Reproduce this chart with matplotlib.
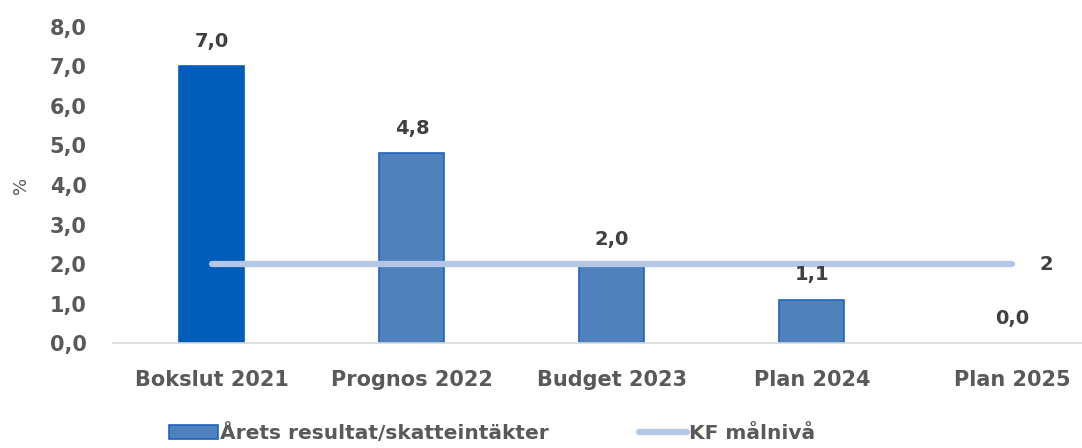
import numpy as np
import matplotlib.pyplot as plt
from matplotlib.patches import Patch
from matplotlib.lines import Line2D

categories = ["Bokslut 2021", "Prognos 2022", "Budget 2023", "Plan 2024", "Plan 2025"]
resultat = [7.0, 4.8, 2.0, 1.1, 0.0]
malniva = [2, 2, 2, 2, 2]
yticks = [0, 1, 2, 3, 4, 5, 6, 7, 8]

plt.rcParams['font.family'] = ['DejaVu Sans']
grey = "#595959"
dark = "#404040"

fig = plt.figure(figsize=(10.82, 4.48), dpi=100)
ax = fig.add_axes([0.1044, 0.234, 0.8956, 0.706])

x = np.arange(len(categories))
colors = ["#005EB8"] + ["#4F81BD"] * (len(categories) - 1)
edges = ["#005EB8"] + ["#1F64C0"] * (len(categories) - 1)
edges = [e if v > 0 else "none" for e, v in zip(edges, resultat)]
ax.bar(x, resultat, width=0.325, color=colors, edgecolor=edges, linewidth=1.2, zorder=2)
ax.plot(x, malniva, color="#B4C7E7", linewidth=4.5, solid_capstyle="round", zorder=3)

for xi, v in zip(x, resultat):
    ax.annotate(f"{v:.1f}".replace(".", ","), (xi, v), xytext=(0, 11), textcoords="offset points",
                ha="center", va="bottom", fontsize=14, fontweight="bold", color=dark)
ax.annotate(str(malniva[-1]), (x[-1], malniva[-1]), xytext=(20, 0), textcoords="offset points",
            ha="left", va="center", fontsize=14, fontweight="bold", color=dark)

ax.set_xlim(-0.495, 4.35)
ax.set_ylim(0, 8)
ax.set_yticks(yticks)
ax.set_yticklabels([f"{t:.1f}".replace(".", ",") for t in yticks])
ax.set_xticks(x)
ax.set_xticklabels(categories)
ax.tick_params(axis="y", length=0, pad=19, labelsize=15, labelcolor=grey)
ax.tick_params(axis="x", length=0, pad=19, labelsize=15, labelcolor=grey)
for lab in ax.get_xticklabels() + ax.get_yticklabels():
    lab.set_fontweight("bold")
for s in ["top", "right", "left"]:
    ax.spines[s].set_visible(False)
ax.spines["bottom"].set_color("#D9D9D9")
ax.spines["bottom"].set_linewidth(1.2)
ax.set_ylabel("%", fontsize=13, color=grey, labelpad=14)

handles = [Patch(facecolor="#4F81BD", edgecolor="#1F64C0", linewidth=1.2),
           Line2D([], [], color="#B4C7E7", linewidth=4.5, solid_capstyle="round")]
fig.legend(handles, ["Årets resultat/skatteintäkter", "KF målnivå"], loc="lower center",
           bbox_to_anchor=(0.455, -0.03), ncol=2, frameon=False, columnspacing=4.5,
           handlelength=2.4, handletextpad=0.1,
           prop={"size": 14.5, "weight": "bold"}, labelcolor=grey)

fig.savefig("out.png", dpi=100)
